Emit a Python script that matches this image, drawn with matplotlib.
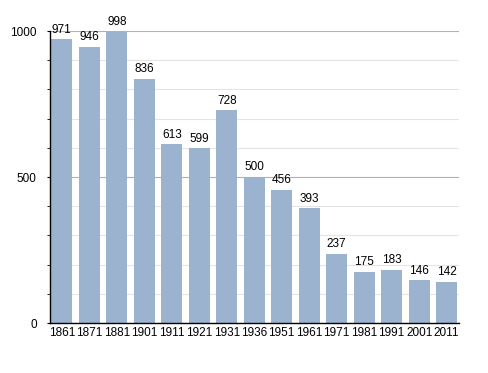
import numpy as np
import matplotlib.pyplot as plt
from matplotlib.ticker import MultipleLocator

plt.rcParams['font.family'] = ['Liberation Sans', 'DejaVu Sans']

years = ['1861', '1871', '1881', '1901', '1911', '1921', '1931', '1936',
         '1951', '1961', '1971', '1981', '1991', '2001', '2011']
population = [971, 946, 998, 836, 613, 599, 728, 500, 456, 393, 237, 175, 183, 146, 142]

fig = plt.figure(figsize=(4.88, 3.73), dpi=100)
ax = fig.add_axes([50 / 488, 1 - 323 / 373, 409 / 488, 292 / 373])

index = np.arange(len(years))
ax.bar(index, population, width=0.77, color='#9bb3cf', zorder=2)
for i, v in enumerate(population):
    ax.text(i, v + 12, str(v), ha='center', va='bottom', fontsize=8.5, zorder=3)

ax.set_xlim(-0.43, len(years) - 0.55)
ax.set_ylim(0, 1000)
ax.set_xticks(index)
ax.set_xticklabels(years, fontsize=8.5)
ax.tick_params(axis='x', length=0, pad=3)
ax.yaxis.set_major_locator(MultipleLocator(500))
ax.yaxis.set_minor_locator(MultipleLocator(100))
ax.tick_params(axis='y', which='major', length=2.5, labelsize=8.5, pad=7)
ax.tick_params(axis='y', which='minor', length=2.5)
ax.grid(axis='y', which='minor', color='#e4e4e4', linewidth=0.8, zorder=0)
ax.grid(axis='y', which='major', color='#b0b0b0', linewidth=0.8, zorder=1)
for s in ['top', 'right']:
    ax.spines[s].set_visible(False)
ax.spines['left'].set_linewidth(1)
ax.spines['bottom'].set_linewidth(1)

fig.savefig('out.png', dpi=100)
